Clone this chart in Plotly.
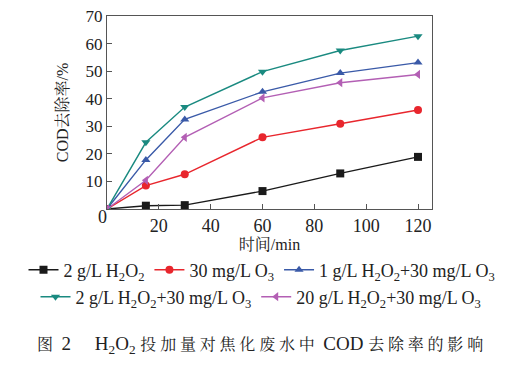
import plotly.graph_objects as go

time_min = [0, 15, 30, 60, 90, 120]
h2o2_2g = [0, 1.2, 1.4, 6.5, 12.9, 18.9]
o3_30mg = [0, 8.5, 12.6, 26.0, 30.9, 35.9]
h2o2_1g_o3 = [0, 17.8, 32.5, 42.5, 49.3, 53.1]
h2o2_2g_o3 = [0, 24.2, 37.0, 49.8, 57.5, 62.7]
h2o2_20g_o3 = [0, 10.4, 26.0, 40.3, 45.8, 48.8]

names = ["2 g/L H<sub>2</sub>O<sub>2</sub>",
         "30 mg/L O<sub>3</sub>",
         "1 g/L H<sub>2</sub>O<sub>2</sub>+30 mg/L O<sub>3</sub>",
         "2 g/L H<sub>2</sub>O<sub>2</sub>+30 mg/L O<sub>3</sub>",
         "20 g/L H<sub>2</sub>O<sub>2</sub>+30 mg/L O<sub>3</sub>"]
series = [h2o2_2g, o3_30mg, h2o2_1g_o3, h2o2_2g_o3, h2o2_20g_o3]
colors = ["#1a1a1a", "#e8262d", "#3a5aa8", "#1a8a80", "#b35fb4"]
symbols = ["square", "circle", "triangle-up", "triangle-down", "triangle-left"]
legend_rows = ["legend", "legend", "legend", "legend2", "legend2"]

FONT = "Liberation Serif, Times New Roman, Noto Serif CJK SC, Noto Sans CJK SC, serif"

# the page body has an 8px default margin; figure is sized to fit the window
OFF = 8
W, H = 532 - OFF, 367 - OFF
L, R, T, B = 107, 432, 16, 209  # plot-area edges in window pixels


def px_x(x):
    return (x - OFF) / W


def px_y(y):
    return 1 - (y - OFF) / H


fig = go.Figure()
for n, s, c, m, lg in zip(names, series, colors, symbols, legend_rows):
    fig.add_trace(go.Scatter(x=time_min, y=s, name=n, mode="lines+markers",
                             line=dict(color=c, width=1.4),
                             marker=dict(symbol=m, size=8, color=c),
                             legend=lg))

# shared origin label "0" at the lower-left corner
fig.add_trace(go.Scatter(x=[time_min[0]], y=[0], mode="text", text=["0"],
                         textposition="bottom left", cliponaxis=False,
                         textfont=dict(size=18, family=FONT, color="#222"),
                         showlegend=False, hoverinfo="skip"))

leg_common = dict(orientation="h", xanchor="center", yanchor="middle",
                  font=dict(size=18, family=FONT),
                  tracegroupgap=0, traceorder="normal", itemwidth=30,
                  bgcolor="rgba(0,0,0,0)")
fig.update_layout(
    width=W, height=H,
    margin=dict(l=0, r=0, t=0, b=0, autoexpand=False),
    plot_bgcolor="white", paper_bgcolor="white",
    font=dict(family=FONT, size=18, color="#222"),
    showlegend=True,
    legend=dict(x=px_x(262), y=px_y(270), **leg_common),
    legend2=dict(x=px_x(261), y=px_y(297), **leg_common),
)
fig.update_xaxes(domain=[px_x(L), px_x(R)], range=[0, 125.4],
                 tickvals=[20, 40, 60, 80, 100, 120],
                 ticks="inside", ticklen=5, tickcolor="#555",
                 ticklabeloverflow="allow",
                 showline=True, linecolor="#555", linewidth=1, mirror=True,
                 showgrid=False, zeroline=False,
                 title=dict(text="时间/min", standoff=4, font=dict(size=16)))
fig.update_yaxes(domain=[px_y(B), px_y(T)], range=[0, 70],
                 tickvals=[10, 20, 30, 40, 50, 60, 70],
                 ticks="inside", ticklen=5, tickcolor="#555",
                 ticklabeloverflow="allow", tickfont=dict(size=17),
                 showline=True, linecolor="#555", linewidth=1, mirror=True,
                 showgrid=False, zeroline=False,
                 title=dict(text="COD去除率/%", standoff=12, font=dict(size=16)))

cjk = "font-size:16px;letter-spacing:3.8px"
lat = "font-size:19px"
caption = (f'<span style="{cjk}">图</span><span style="{lat}"> 2　 H<sub>2</sub>O<sub>2</sub> </span>'
           f'<span style="{cjk}">投加量对焦化废水中</span><span style="{lat}"> COD </span>'
           f'<span style="{cjk}">去除率的影响</span>')
fig.add_annotation(text=caption,
                   x=px_x(262), y=px_y(345), xref="paper", yref="paper", showarrow=False,
                   xanchor="center", yanchor="middle", font=dict(size=16))
fig.write_html("out.html")
